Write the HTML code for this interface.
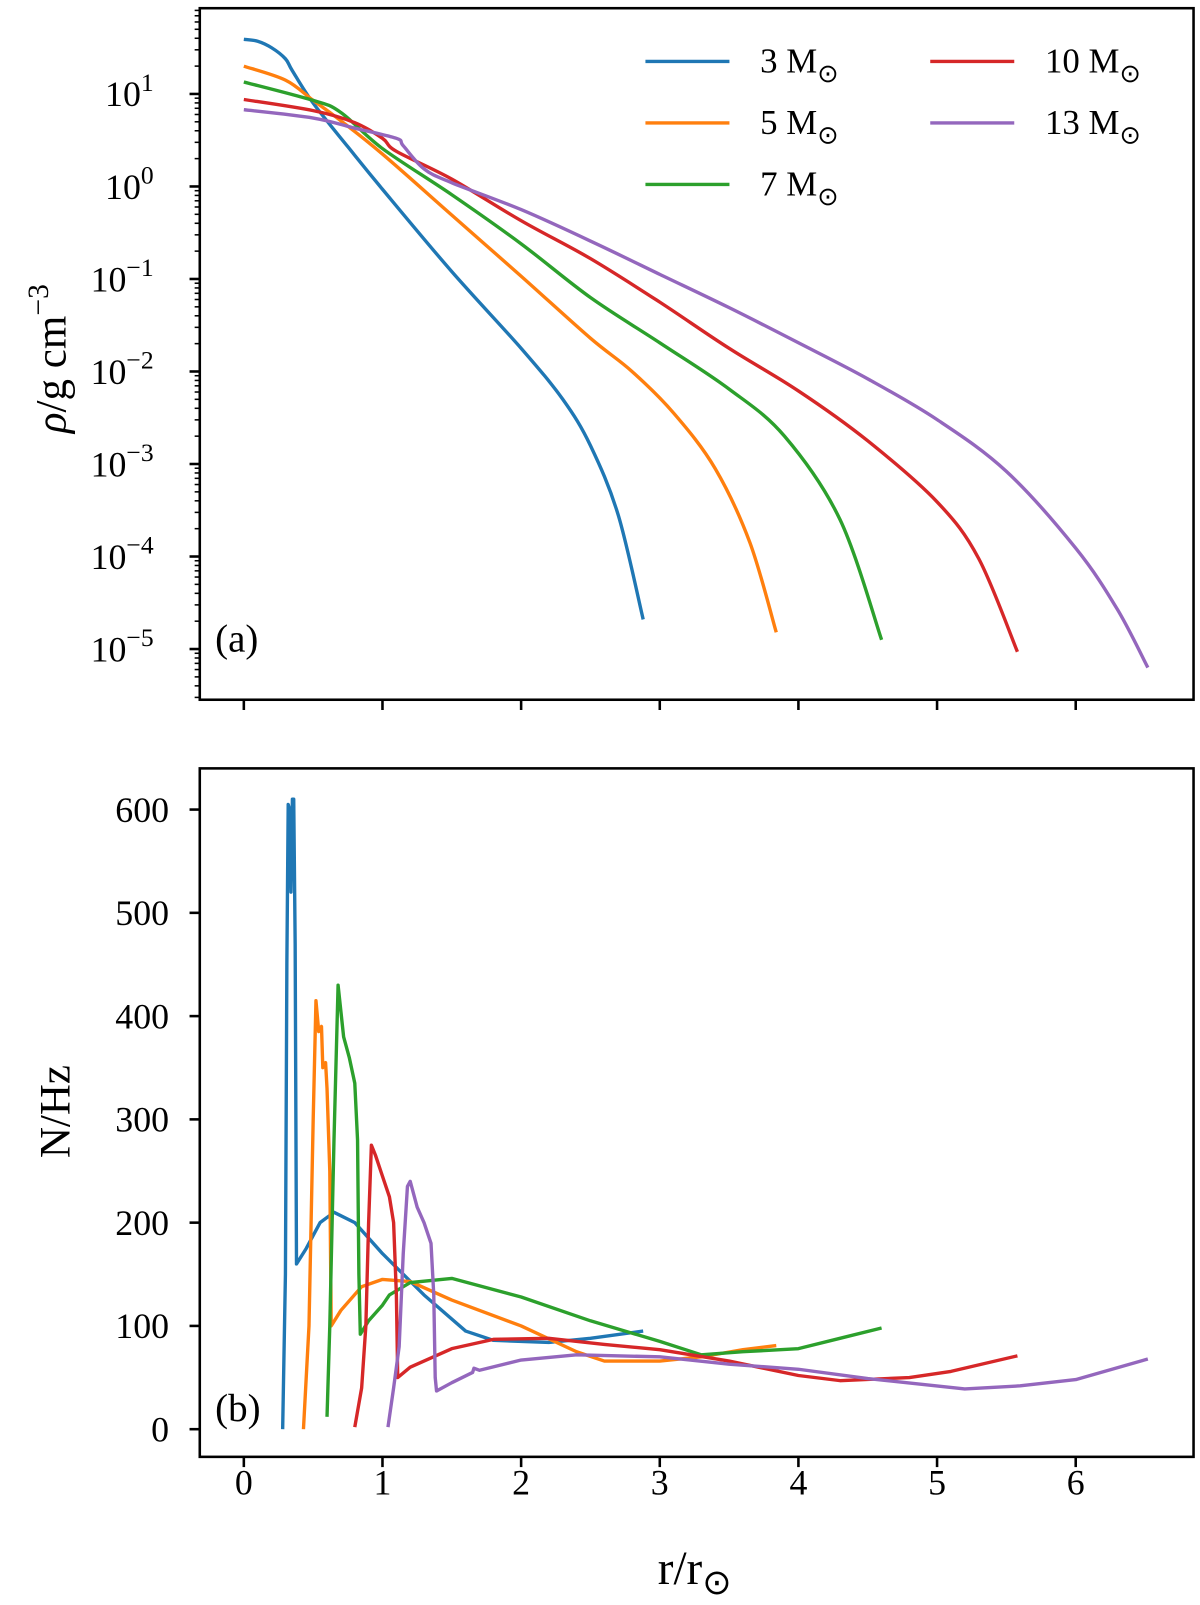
<!DOCTYPE html>
<html><head><meta charset="utf-8">
<style>
html,body{margin:0;padding:0;background:#fff;}
svg{display:block;font-family:"Liberation Serif",serif;}
</style></head>
<body>
<svg id="fig" width="1200" height="1605" viewBox="0 0 1171.3 1566.6" xmlns="http://www.w3.org/2000/svg" style="position:absolute;left:0;top:0">
<g id="gtop"></g>
<g id="gbot"></g>
</svg>
<script>
// ---- data ----
const seriesNames = ["3 M", "5 M", "7 M", "10 M", "13 M"];
const seriesColors = ["#1f77b4", "#ff7f0e", "#2ca02c", "#d62728", "#9467bd"];
// Panel (a): r values and log10(rho)
const rhoR3 = [0,0.1,0.2,0.3,0.35,0.5,0.75,1,1.5,2,2.3,2.5,2.7,2.88];
const rhoLog3 = [1.59,1.57,1.5,1.38,1.25,0.9,0.43,-0.03,-0.92,-1.75,-2.3,-2.8,-3.55,-4.68];
const rhoR5 = [0,0.3,0.5,0.7,1,1.5,2,2.5,2.8,3.1,3.4,3.65,3.84];
const rhoLog5 = [1.3,1.15,0.93,0.71,0.35,-0.31,-0.97,-1.64,-2.0,-2.45,-3.05,-3.85,-4.82];
const rhoR7 = [0,0.5,0.7,1,1.5,2,2.5,3,3.5,3.9,4.3,4.6];
const rhoLog7 = [1.13,0.93,0.8,0.41,-0.09,-0.62,-1.2,-1.69,-2.19,-2.7,-3.6,-4.9];
const rhoR10 = [0,0.5,0.8,1,1.1,1.5,2,2.5,3,3.5,4,4.5,5,5.3,5.58];
const rhoLog10 = [0.94,0.82,0.69,0.52,0.38,0.08,-0.37,-0.78,-1.25,-1.75,-2.21,-2.75,-3.41,-4.02,-5.03];
const rhoR13 = [0,0.5,0.8,1.1,1.15,1.3,1.5,2,2.5,3,3.5,4,4.5,5,5.5,6,6.3,6.52];
const rhoLog13 = [0.83,0.74,0.63,0.52,0.44,0.19,0.04,-0.25,-0.59,-0.95,-1.31,-1.69,-2.08,-2.52,-3.08,-3.91,-4.57,-5.2];
// Panel (b): r values and N (Hz)
const nR3 = [0.28,0.3,0.31,0.32,0.33,0.34,0.35,0.36,0.37,0.38,0.45,0.55,0.65,0.8,1,1.3,1.6,1.8,2.2,2.5,2.88];
const nV3 = [0,150,450,605,600,520,610,610,470,160,175,200,210,200,170,130,95,86,84,88,95];
const nR5 = [0.43,0.47,0.5,0.52,0.54,0.56,0.57,0.59,0.6,0.62,0.63,0.7,0.85,1.0,1.2,1.5,2,2.4,2.6,3,3.3,3.6,3.84];
const nV5 = [0,100,300,415,385,390,350,355,330,250,100,115,138,145,143,125,100,75,66,66,70,77,81];
const nR7 = [0.6,0.62,0.65,0.68,0.72,0.76,0.8,0.82,0.83,0.84,0.9,1.0,1.05,1.2,1.5,2,2.5,3,3.3,3.6,4,4.3,4.6];
const nV7 = [12,100,280,430,380,360,335,280,150,92,105,120,130,142,146,128,105,85,72,75,78,88,98];
const nR10 = [0.8,0.85,0.88,0.9,0.92,0.95,1.0,1.05,1.08,1.1,1.11,1.2,1.5,1.8,2.2,2.6,3,3.5,4,4.3,4.8,5.1,5.58];
const nV10 = [2,40,100,200,275,265,245,225,200,130,50,60,78,87,88,82,77,66,52,47,50,56,71];
const nR13 = [1.04,1.08,1.12,1.15,1.18,1.2,1.25,1.3,1.35,1.37,1.38,1.39,1.5,1.65,1.66,1.7,2,2.4,3,3.5,4,4.5,5.2,5.6,6,6.52];
const nV13 = [2,40,80,170,235,240,215,200,180,130,50,37,45,55,59,57,67,72,70,63,58,49,39,42,48,68];
const xTicks = [0,1,2,3,4,5,6];
const rhoTicks = [1,0,-1,-2,-3,-4,-5];
const nTicks = [0,100,200,300,400,500,600];

// ---- axes ----
const L=195,R=1165, T1=8,B1=683, T2=750,B2=1422;
const xS = v => 238 + v*135.33;
const yRho = lg => 182 - lg*90.3;
const yN = v => 1395 - v*1.008;
const NS="http://www.w3.org/2000/svg";
function mk(tag, attrs, parent){const e=document.createElementNS(NS,tag);for(const k in attrs)e.setAttribute(k,attrs[k]);parent.appendChild(e);return e;}
const gTop=document.getElementById('gtop'), gBot=document.getElementById('gbot');

function pathD(xs, ys, fy){return xs.map((x,i)=>(i?'L':'M')+xS(x).toFixed(1)+','+fy(ys[i]).toFixed(1)).join(' ');}
function smoothD(xs, ys, fy){
  const P=xs.map((x,i)=>[xS(x),fy(ys[i])]);
  let d='M'+P[0][0].toFixed(1)+','+P[0][1].toFixed(1);
  for(let i=0;i<P.length-1;i++){
    const p0=P[Math.max(0,i-1)],p1=P[i],p2=P[i+1],p3=P[Math.min(P.length-1,i+2)];
    const c1x=p1[0]+(p2[0]-p0[0])/6,c1y=p1[1]+(p2[1]-p0[1])/6;
    const c2x=p2[0]-(p3[0]-p1[0])/6,c2y=p2[1]-(p3[1]-p1[1])/6;
    d+=' C'+c1x.toFixed(1)+','+c1y.toFixed(1)+' '+c2x.toFixed(1)+','+c2y.toFixed(1)+' '+p2[0].toFixed(1)+','+p2[1].toFixed(1);
  }
  return d;
}

const defs=mk('defs',{},document.getElementById('fig'));
const c1=mk('clipPath',{id:'c1'},defs); mk('rect',{x:L,y:T1,width:R-L,height:B1-T1},c1);
const c2=mk('clipPath',{id:'c2'},defs); mk('rect',{x:L,y:T2,width:R-L,height:B2-T2},c2);

const rhoR=[rhoR3,rhoR5,rhoR7,rhoR10,rhoR13], rhoL=[rhoLog3,rhoLog5,rhoLog7,rhoLog10,rhoLog13];
const g1=mk('g',{'clip-path':'url(#c1)'},gTop);
rhoR.forEach((xs,i)=>{
  const p=mk('path',{d:smoothD(xs,rhoL[i],yRho),fill:'none',stroke:seriesColors[i],'stroke-width':3.3,'stroke-linejoin':'round'},g1);
  
  
});
const nR=[nR3,nR5,nR7,nR10,nR13], nV=[nV3,nV5,nV7,nV10,nV13];
const g2=mk('g',{'clip-path':'url(#c2)'},gBot);
nR.forEach((xs,i)=>{
  const p=mk('path',{d:pathD(xs,nV[i],yN),fill:'none',stroke:seriesColors[i],'stroke-width':3.3,'stroke-linejoin':'round'},g2);
  
  
});

const f1=mk('rect',{x:L,y:T1,width:R-L,height:B1-T1,fill:'none',stroke:'#000','stroke-width':2.5},gTop);


const f2=mk('rect',{x:L,y:T2,width:R-L,height:B2-T2,fill:'none',stroke:'#000','stroke-width':2.5},gBot);



xTicks.forEach(v=>{
  const x=xS(v);
  mk('line',{x1:x,x2:x,y1:B1,y2:B1+10,stroke:'#000','stroke-width':2.5},gTop);
  mk('line',{x1:x,x2:x,y1:B2,y2:B2+10,stroke:'#000','stroke-width':2.5},gBot);
  const t=mk('text',{x:x,y:1459,'font-size':35,'text-anchor':'middle'},gBot);
  t.textContent=v;
  
  
});
rhoTicks.forEach(v=>{
  const y=yRho(v);
  mk('line',{x1:L-10,x2:L,y1:y,y2:y,stroke:'#000','stroke-width':2.5},gTop);
  const t=mk('text',{x:150,y:y+12,'font-size':35,'text-anchor':'end'},gTop);
  t.textContent='10';
  const s=mk('tspan',{dy:-15,'font-size':25},t);
  s.textContent=(v<0?'\u2212'+(-v):String(v));
  
  
});
for(let d=-6; d<=1; d++){
  for(let m=2;m<=9;m++){
    const y=yRho(d+Math.log10(m));
    if(y<T1||y>B1) continue;
    mk('line',{x1:L-5,x2:L,y1:y,y2:y,stroke:'#000','stroke-width':1.5},gTop);
  }
}
nTicks.forEach(v=>{
  const y=yN(v);
  mk('line',{x1:L-10,x2:L,y1:y,y2:y,stroke:'#000','stroke-width':2.5},gBot);
  const t=mk('text',{x:165,y:y+12,'font-size':35,'text-anchor':'end'},gBot);
  t.textContent=v;
  
  
});

const lg=mk('g',{},gTop);


const legPos=[[630,60],[630,120],[630,180],[908,60],[908,120]];
seriesNames.forEach((n,i)=>{
  const [x,y]=legPos[i];
  const e=mk('g',{},lg);
  
  
  mk('line',{x1:x,x2:x+82,y1:y,y2:y,stroke:seriesColors[i],'stroke-width':3.3},e);
  const t=mk('text',{x:x+112,y:y+11,'font-size':34},e);
  t.textContent=n;
  const s=mk('tspan',{dy:9,'font-size':25},t);
  s.textContent='\u2299';
});
</script>
<svg style="position:absolute;left:0;top:0" width="1200" height="1605" viewBox="0 0 1171.3 1566.6">
<text x="210" y="636" font-size="38" font-family="Liberation Serif,serif">(a)</text>
<text x="210" y="1387" font-size="38" font-family="Liberation Serif,serif">(b)</text>
<text transform="translate(64,350) rotate(-90)" text-anchor="middle" font-size="42" font-family="Liberation Serif,serif"><tspan font-style="italic">ρ</tspan>/g cm<tspan dy="-17" font-size="29">−3</tspan></text>
<text transform="translate(68,1085) rotate(-90)" text-anchor="middle" font-size="42" font-family="Liberation Serif,serif">N/Hz</text>
<text x="678" y="1546" text-anchor="middle" font-size="46" font-family="Liberation Serif,serif">r/r<tspan dy="10" font-size="34">⊙</tspan></text>
</svg>
</body></html>
